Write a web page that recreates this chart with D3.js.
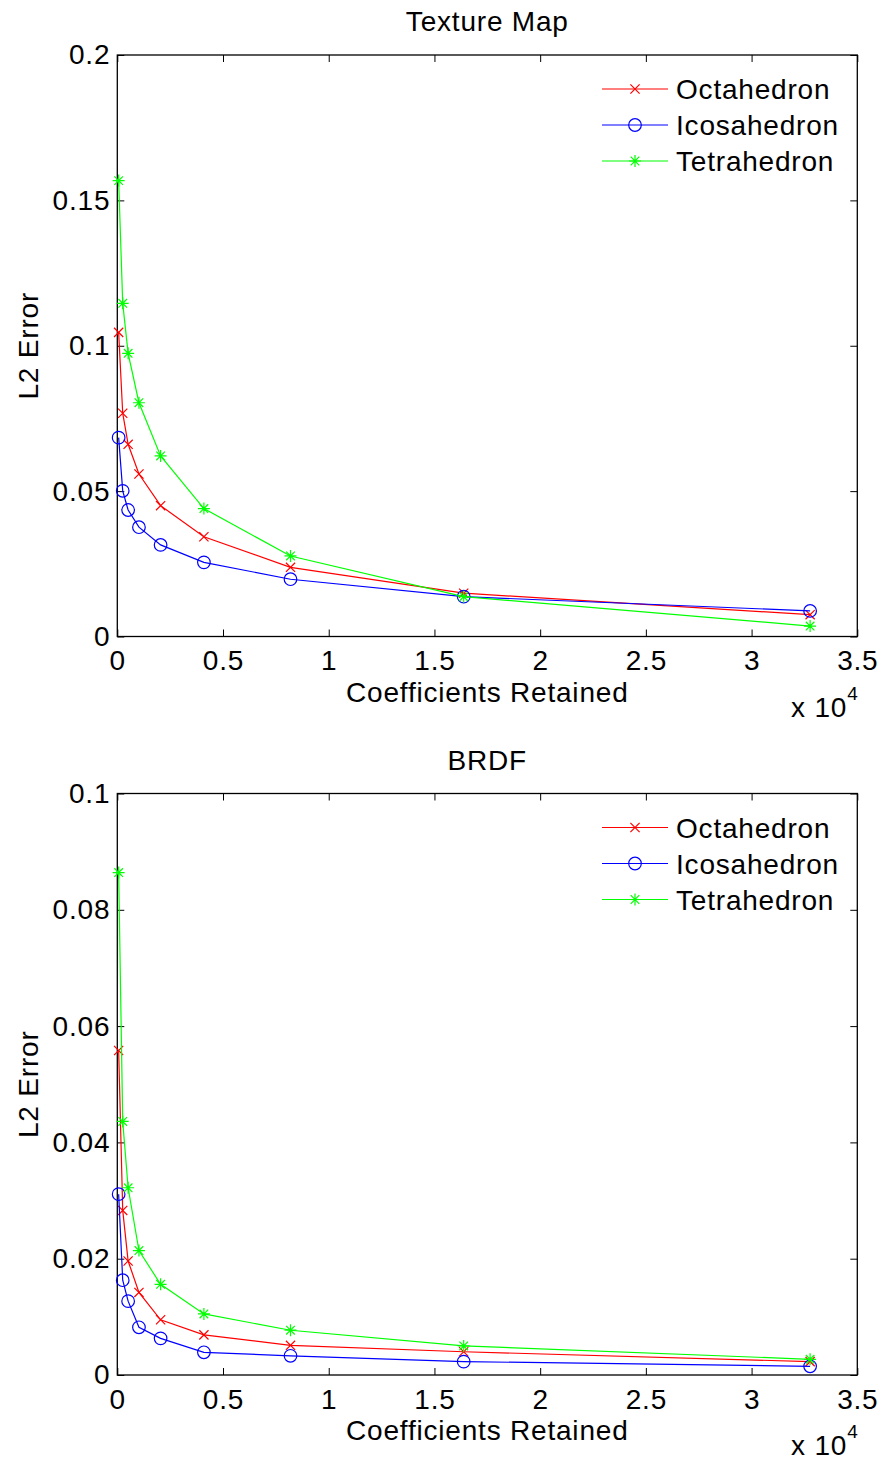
<!DOCTYPE html>
<html>
<head>
<meta charset="utf-8">
<script src="https://cdn.jsdelivr.net/npm/d3@7"></script>
<style>
  body { margin: 0; background: #fff; }
  text { font-family: "Liberation Sans", Arial, Helvetica, sans-serif; fill: #000; letter-spacing: 0.8px; }
</style>
</head>
<body>
<div id="chart"></div>
<script>
// coefficients retained (x axis, shown in units of 10^4)
var coeffs = [64, 256, 512, 1024, 2048, 4096, 8192, 16384, 32768];

var seriesNames = ["Octahedron", "Icosahedron", "Tetrahedron"];
var seriesColors = ["#ff0000", "#0000ff", "#00ff00"];
var seriesMarkers = ["x", "o", "*"];

// Texture Map L2 error
var octaTex  = [0.1046, 0.0768, 0.0661, 0.0559, 0.0450, 0.0343, 0.0238, 0.0149, 0.0075];
var icosaTex = [0.0684, 0.0501, 0.0435, 0.0376, 0.0315, 0.0255, 0.0197, 0.0137, 0.0088];
var tetraTex = [0.1568, 0.1146, 0.0974, 0.0804, 0.0621, 0.0440, 0.0277, 0.0137, 0.0036];

// BRDF L2 error
var octaBrdf  = [0.0558, 0.0283, 0.0196, 0.0142, 0.0095, 0.0069, 0.0051, 0.0040, 0.0023];
var icosaBrdf = [0.0311, 0.0163, 0.0127, 0.0082, 0.0063, 0.0039, 0.0033, 0.0023, 0.0015];
var tetraBrdf = [0.0864, 0.0436, 0.0322, 0.0214, 0.0156, 0.0105, 0.0077, 0.0050, 0.0027];

var xTicks = [0, 0.5, 1, 1.5, 2, 2.5, 3, 3.5];
var yTicksTex  = [0, 0.05, 0.1, 0.15, 0.2];
var yTicksBrdf = [0, 0.02, 0.04, 0.06, 0.08, 0.1];

var W = 883, H = 1460;
var svg = d3.select("#chart").append("svg")
    .attr("width", W).attr("height", H);

var fs = 28;

function drawPanel(top, title, yMax, yTicks, series) {
  var left = 117.3, right = 857.3, ph = 581.5;
  var x = d3.scaleLinear().domain([0, 3.5]).range([left, right]);
  var y = d3.scaleLinear().domain([0, yMax]).range([top + ph, top]);

  var g = svg.append("g");

  // box
  g.append("rect")
    .attr("x", left).attr("y", top)
    .attr("width", right - left).attr("height", ph)
    .attr("fill", "none").attr("stroke", "#000").attr("stroke-width", 1.3);

  g.append("g")
    .attr("transform", "translate(0," + (top + ph) + ")")
    .call(d3.axisBottom(x).tickValues(xTicks).tickSize(-7).tickPadding(14)
      .tickFormat(function(d) { return d3.format("")(d); }));
  g.append("g")
    .attr("transform", "translate(0," + top + ")")
    .call(d3.axisTop(x).tickValues(xTicks).tickSize(-7).tickFormat(""));
  g.append("g")
    .attr("transform", "translate(" + left + ",0)")
    .call(d3.axisLeft(y).tickValues(yTicks).tickSize(-7).tickPadding(7)
      .tickFormat(function(d) { return d3.format("")(+d.toFixed(3)); }));
  g.append("g")
    .attr("transform", "translate(" + right + ",0)")
    .call(d3.axisRight(y).tickValues(yTicks).tickSize(-7).tickFormat(""));

  g.selectAll(".domain").remove();
  g.selectAll(".tick line").attr("stroke", "#000").attr("stroke-width", 1);
  g.selectAll(".tick text").style("font-size", fs + "px")
    .style("font-family", "'Liberation Sans', Arial, sans-serif").attr("fill", "#000");

  // title and labels
  g.append("text")
    .attr("x", (left + right) / 2).attr("y", top - 24)
    .attr("text-anchor", "middle").style("font-size", fs + "px")
    .text(title);
  g.append("text")
    .attr("x", (left + right) / 2).attr("y", top + ph + 65)
    .attr("text-anchor", "middle").style("font-size", fs + "px")
    .text("Coefficients Retained");
  g.append("text")
    .attr("transform", "translate(38," + (top + ph / 2) + ") rotate(-90)")
    .attr("text-anchor", "middle").style("font-size", fs + "px")
    .text("L2 Error");
  var mult = g.append("text")
    .attr("x", 791).attr("y", top + ph + 80)
    .style("font-size", fs + "px");
  mult.append("tspan").text("x 10");
  mult.append("tspan").attr("dy", -17).style("font-size", "19px").text("4");

  var line = d3.line()
    .x(function(d) { return x(d[0] / 1e4); })
    .y(function(d) { return y(d[1]); });

  series.forEach(function(vals, i) {
    var pts = coeffs.map(function(c, j) { return [c, vals[j]]; });
    g.append("path")
      .datum(pts)
      .attr("fill", "none")
      .attr("stroke", seriesColors[i])
      .attr("stroke-width", 1.2)
      .attr("d", line);
    pts.forEach(function(p) {
      drawMarker(g, seriesMarkers[i], x(p[0] / 1e4), y(p[1]), seriesColors[i]);
    });
  });

  // legend
  var lg = g.append("g");
  seriesNames.forEach(function(name, i) {
    var ly = top + 34 + i * 36;
    lg.append("line")
      .attr("x1", 602).attr("x2", 668).attr("y1", ly).attr("y2", ly)
      .attr("stroke", seriesColors[i]).attr("stroke-width", 1.2);
    drawMarker(lg, seriesMarkers[i], 635, ly, seriesColors[i]);
    lg.append("text")
      .attr("x", 676).attr("y", ly + 10)
      .style("font-size", fs + "px")
      .text(name);
  });
}

function drawMarker(g, type, cx, cy, color) {
  if (type === "o") {
    g.append("circle").attr("cx", cx).attr("cy", cy).attr("r", 6.3)
      .attr("fill", "none").attr("stroke", color).attr("stroke-width", 1.2);
  } else if (type === "x") {
    var s = 4.6;
    g.append("path")
      .attr("d", "M" + (cx - s) + "," + (cy - s) + "L" + (cx + s) + "," + (cy + s) +
                 "M" + (cx - s) + "," + (cy + s) + "L" + (cx + s) + "," + (cy - s))
      .attr("stroke", color).attr("stroke-width", 1.2);
  } else {
    var r = 6, d = 4.3;
    g.append("path")
      .attr("d", "M" + cx + "," + (cy - r) + "L" + cx + "," + (cy + r) +
                 "M" + (cx - r) + "," + cy + "L" + (cx + r) + "," + cy +
                 "M" + (cx - d) + "," + (cy - d) + "L" + (cx + d) + "," + (cy + d) +
                 "M" + (cx - d) + "," + (cy + d) + "L" + (cx + d) + "," + (cy - d))
      .attr("stroke", color).attr("stroke-width", 1.2);
  }
}

drawPanel(55, "Texture Map", 0.2, yTicksTex, [octaTex, icosaTex, tetraTex]);
drawPanel(793.5, "BRDF", 0.1, yTicksBrdf, [octaBrdf, icosaBrdf, tetraBrdf]);
</script>
</body>
</html>
